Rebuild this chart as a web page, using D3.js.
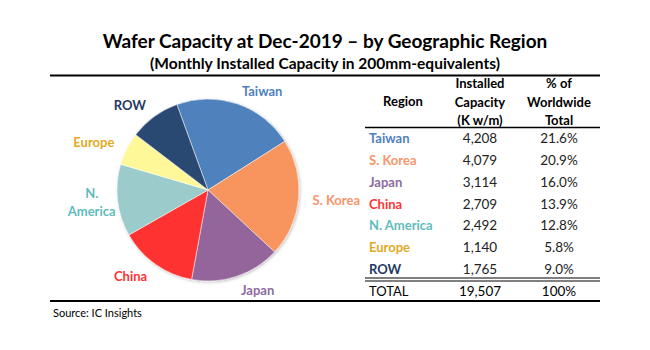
<!DOCTYPE html>
<html>
<head>
<meta charset="utf-8">
<script src="https://cdn.jsdelivr.net/npm/d3@7"></script>
<style>
  body { margin: 0; background: #fff; }
  svg { font-family: Lato, "Open Sans", sans-serif; }
</style>
</head>
<body>
<div id="chart"></div>
<script>
// Data
const regions = ["Taiwan", "S. Korea", "Japan", "China", "N. America", "Europe", "ROW"];
const capacity = [4208, 4079, 3114, 2709, 2492, 1140, 1765];
const shares = ["21.6%", "20.9%", "16.0%", "13.9%", "12.8%", "5.8%", "9.0%"];
const totalRow = ["TOTAL", "19,507", "100%"];
const sliceColors = ["#4f81bd", "#f8955f", "#93659a", "#ff3333", "#9bcbcb", "#fff899", "#2c4a72"];
const labelColors = ["#4f81bd", "#f7956a", "#8e6aa0", "#ff3333", "#5fbcbc", "#e0aa22", "#1f3a63"];

const width = 650, height = 350;

const svg = d3.select("#chart")
    .append("svg")
    .attr("width", width)
    .attr("height", height);

// Titles
svg.append("text")
    .attr("x", 325).attr("y", 48)
    .attr("text-anchor", "middle")
    .style("font-size", "19px").style("font-weight", "bold")
    .text("Wafer Capacity at Dec-2019 \u2013 by Geographic Region");

svg.append("text")
    .attr("x", 325).attr("y", 69)
    .attr("text-anchor", "middle")
    .style("font-size", "15.5px").style("font-weight", "bold")
    .text("(Monthly Installed Capacity in 200mm-equivalents)");

// Rules
const rule = (x1, x2, y, w) => svg.append("line")
    .attr("x1", x1).attr("x2", x2).attr("y1", y).attr("y2", y)
    .attr("stroke", "#000").attr("stroke-width", w);
rule(50, 600, 75.5, 2);
rule(50, 600, 301, 2);

// Pie
const cx = 208, cy = 190, r = 91;
const pie = d3.pie().sort(null).startAngle(-20 * Math.PI / 180).endAngle(340 * Math.PI / 180);
const arcs = pie(capacity);
const arc = d3.arc().innerRadius(0).outerRadius(r);

const defs = svg.append("defs");
const f = defs.append("filter").attr("id", "sh").attr("x", "-20%").attr("y", "-20%").attr("width", "140%").attr("height", "140%");
f.append("feDropShadow").attr("dx", 1).attr("dy", 1).attr("stdDeviation", 1.5).attr("flood-opacity", 0.25);

const g = svg.append("g").attr("transform", `translate(${cx},${cy})`);
g.append("g").attr("filter", "url(#sh)")
    .selectAll("path")
    .data(arcs)
    .enter()
    .append("path")
    .attr("d", arc)
    .attr("fill", (d, i) => sliceColors[i])
    .attr("stroke", "#fff")
    .attr("stroke-width", 0.5);

// Slice labels
const labelR = 105;
g.selectAll("text.lbl")
    .data(arcs)
    .enter()
    .append("text")
    .attr("class", "lbl")
    .each(function (d, i) {
        const a = (d.startAngle + d.endAngle) / 2;
        const x = labelR * Math.sin(a), y = -labelR * Math.cos(a);
        const t = d3.select(this)
            .attr("text-anchor", Math.sin(a) >= 0 ? "start" : "end")
            .style("font-size", "13px").style("font-weight", "bold")
            .attr("fill", labelColors[i]);
        const words = regions[i] === "N. America" ? ["N.", "America"] : [regions[i]];
        words.forEach((w, k) => {
            t.append("tspan")
                .attr("x", x + (words.length > 1 ? -12 : 0))
                .attr("y", y + 5 + (k - (words.length - 1) / 2) * 18)
                .attr("text-anchor", words.length > 1 ? "middle" : null)
                .text(w);
        });
    });

// Table
const colRegion = 369, colCap = 480, colPct = 559;
const rowY = d3.scaleLinear().domain([0, 7]).range([143, 296]);

svg.append("text").attr("x", 403).attr("y", 106).attr("text-anchor", "middle")
    .style("font-size", "13px").style("font-weight", "bold").text("Region");
[["Installed", "% of"], ["Capacity", "Worldwide"], ["(K w/m)", "Total"]].forEach((pair, k) => {
    const y = 88 + k * 18.5;
    svg.append("text").attr("x", colCap).attr("y", y).attr("text-anchor", "middle")
        .style("font-size", "13px").style("font-weight", "bold").text(pair[0]);
    svg.append("text").attr("x", colPct).attr("y", y).attr("text-anchor", "middle")
        .style("font-size", "13px").style("font-weight", "bold").text(pair[1]);
});
rule(365, 600, 127.5, 1.5);

const fmt = d3.format(",");
regions.forEach((name, i) => {
    const y = rowY(i);
    svg.append("text").attr("x", colRegion).attr("y", y)
        .style("font-size", "13px").style("font-weight", "bold")
        .attr("fill", labelColors[i]).text(name);
    svg.append("text").attr("x", colCap).attr("y", y).attr("text-anchor", "middle")
        .style("font-size", "13.5px").attr("fill", "#222").text(fmt(capacity[i]));
    svg.append("text").attr("x", colPct).attr("y", y).attr("text-anchor", "middle")
        .style("font-size", "13.5px").attr("fill", "#222").text(shares[i]);
});

rule(365, 600, 278, 1);
rule(365, 600, 281, 1);

const ty = rowY(7);
svg.append("text").attr("x", colRegion).attr("y", ty).style("font-size", "13px").text(totalRow[0]);
svg.append("text").attr("x", colCap).attr("y", ty).attr("text-anchor", "middle").style("font-size", "13.5px").text(totalRow[1]);
svg.append("text").attr("x", colPct).attr("y", ty).attr("text-anchor", "middle").style("font-size", "13.5px").text(totalRow[2]);

// Source
svg.append("text").attr("x", 53).attr("y", 317)
    .style("font-size", "11px").text("Source:  IC Insights");
</script>
</body>
</html>
